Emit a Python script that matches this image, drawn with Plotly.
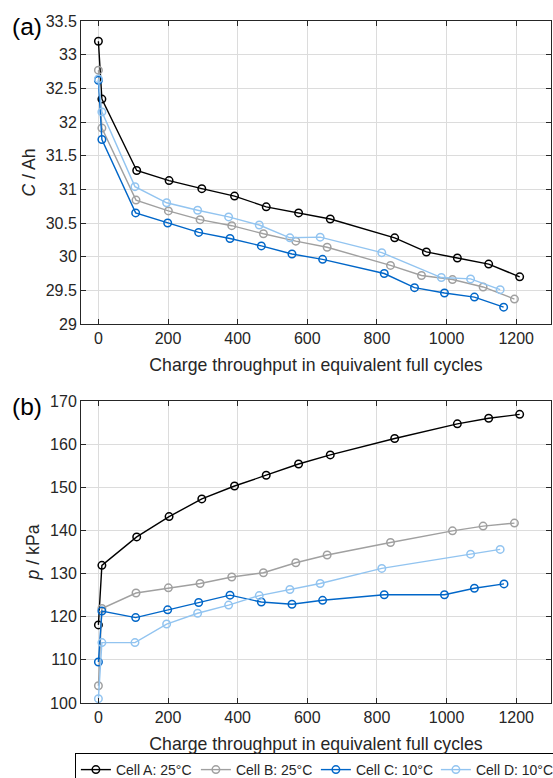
import plotly.graph_objects as go

# ---- data: capacity (panel a) ----
capA_x = [0, 10, 110, 203, 297, 391, 482, 575, 666, 851, 942, 1031, 1121, 1210]
capA_y = [33.20, 32.34, 31.28, 31.13, 31.01, 30.90, 30.74, 30.65, 30.56, 30.28, 30.07, 29.98, 29.89, 29.70]
capB_x = [0, 10, 108, 201, 292, 383, 474, 567, 657, 839, 928, 1017, 1105, 1195]
capB_y = [32.77, 31.91, 30.84, 30.68, 30.55, 30.46, 30.34, 30.23, 30.14, 29.87, 29.72, 29.66, 29.55, 29.37]
capC_x = [0, 10, 107, 199, 288, 378, 468, 556, 644, 821, 908, 994, 1080, 1164]
capC_y = [32.62, 31.74, 30.65, 30.50, 30.36, 30.27, 30.16, 30.04, 29.96, 29.75, 29.54, 29.46, 29.40, 29.25]
capD_x = [0, 10, 105, 196, 285, 374, 462, 550, 637, 814, 985, 1069, 1154]
capD_y = [32.64, 32.15, 31.04, 30.80, 30.69, 30.59, 30.47, 30.28, 30.29, 30.06, 29.69, 29.67, 29.51]

# ---- data: pressure (panel b) ----
prA_x = [0, 10, 110, 203, 297, 391, 482, 575, 666, 851, 1031, 1121, 1210]
prA_y = [118.1, 131.9, 138.5, 143.2, 147.3, 150.3, 152.8, 155.4, 157.5, 161.3, 164.7, 166.0, 166.9]
prB_x = [0, 10, 108, 201, 292, 383, 474, 567, 657, 839, 1017, 1105, 1195]
prB_y = [104.0, 121.9, 125.5, 126.7, 127.7, 129.2, 130.2, 132.5, 134.3, 137.2, 139.9, 141.0, 141.7]
prC_x = [0, 10, 107, 199, 288, 378, 468, 556, 644, 821, 994, 1080, 1165]
prC_y = [109.5, 121.3, 119.8, 121.6, 123.3, 125.0, 123.4, 122.9, 123.8, 125.1, 125.1, 126.6, 127.6]
prD_x = [0, 10, 105, 196, 285, 374, 462, 550, 637, 814, 1069, 1154]
prD_y = [101.0, 114.0, 114.0, 118.3, 120.8, 122.7, 124.9, 126.3, 127.7, 131.2, 134.5, 135.6]

names = ["Cell A: 25°C", "Cell B: 25°C", "Cell C: 10°C", "Cell D: 10°C"]
colors = ["#000000", "#A0A0A0", "#0066C8", "#92C4F0"]

x_ticks = [0, 200, 400, 600, 800, 1000, 1200]
cap_ticks = [29, 29.5, 30, 30.5, 31, 31.5, 32, 32.5, 33, 33.5]
cap_labels = ["29", "29.5", "30", "30.5", "31", "31.5", "32", "32.5", "33", "33.5"]
pr_ticks = [100, 110, 120, 130, 140, 150, 160, 170]

FONT = "Liberation Sans, Arial, sans-serif"
AXC = "#262626"

fig = go.Figure()
cap = [(capA_x, capA_y), (capB_x, capB_y), (capC_x, capC_y), (capD_x, capD_y)]
pr = [(prA_x, prA_y), (prB_x, prB_y), (prC_x, prC_y), (prD_x, prD_y)]
for i, (x, y) in enumerate(cap):
    fig.add_trace(go.Scatter(x=x, y=y, mode="lines+markers", name=names[i],
                             line=dict(color=colors[i], width=1.4),
                             marker=dict(symbol="circle-open", size=7.5, color=colors[i], line=dict(width=1.5)),
                             xaxis="x", yaxis="y", showlegend=False))
for i, (x, y) in enumerate(pr):
    fig.add_trace(go.Scatter(x=x, y=y, mode="lines+markers", name=names[i],
                             line=dict(color=colors[i], width=1.4),
                             marker=dict(symbol="circle-open", size=7.5, color=colors[i], line=dict(width=1.5)),
                             xaxis="x2", yaxis="y2", showlegend=True))

H = 778
t, b = 21, 75
ph = H - t - b
top_dom = [(703 - 324) / ph, 1.0]
bot_dom = [0.0, (703 - 401) / ph]

common_x = dict(range=[-50, 1300], tickvals=x_ticks, ticks="inside", ticklen=5, tickcolor=AXC,
                showline=True, linecolor=AXC, linewidth=1, mirror="allticks",
                showgrid=True, gridcolor="#DCDCDC", gridwidth=1, zeroline=False, automargin=False,
                tickfont=dict(size=16, color=AXC, family=FONT),
                title=dict(text="Charge throughput in equivalent full cycles",
                           font=dict(size=17.7, color=AXC, family=FONT), standoff=12))
common_y = dict(ticks="inside", ticklen=5, tickcolor=AXC,
                showline=True, linecolor=AXC, linewidth=1, mirror="allticks",
                showgrid=True, gridcolor="#DCDCDC", gridwidth=1, zeroline=False, automargin=False,
                tickfont=dict(size=16, color=AXC, family=FONT))

fig.update_layout(
    template="none",
    width=553, height=H,
    margin=dict(l=81, r=2, t=t, b=b, autoexpand=False),
    plot_bgcolor="white", paper_bgcolor="white",
    font=dict(family=FONT, color=AXC),
    xaxis=dict(domain=[0, 1], anchor="y", **common_x),
    yaxis=dict(domain=top_dom, anchor="x", range=[29, 33.5], tickvals=cap_ticks, ticktext=cap_labels,
               title=dict(text="<i>C</i> / Ah", font=dict(size=17.7, color=AXC, family=FONT), standoff=5),
               **common_y),
    xaxis2=dict(domain=[0, 1], anchor="y2", **common_x),
    yaxis2=dict(domain=bot_dom, anchor="x2", range=[100, 170], tickvals=pr_ticks,
                title=dict(text="<i>p</i> / kPa", font=dict(size=17.7, color=AXC, family=FONT), standoff=5),
                **common_y),
    legend=dict(orientation="h", x=-0.013, xanchor="left", y=(703 - 753) / ph, yanchor="top",
                bordercolor="#000000", borderwidth=1, bgcolor="white",
                font=dict(size=14, color=AXC, family=FONT),
                itemwidth=30, entrywidth=75, entrywidthmode="pixels", tracegroupgap=0),
    annotations=[
        dict(text="(a)", x=-0.151, y=1.0, xref="paper", yref="paper", xanchor="left", yanchor="top",
             yshift=10, showarrow=False, font=dict(size=24.5, color="#000000", family=FONT)),
        dict(text="(b)", x=-0.151, y=bot_dom[1], xref="paper", yref="paper", xanchor="left", yanchor="top",
             yshift=10, showarrow=False, font=dict(size=24.5, color="#000000", family=FONT)),
    ],
)

fig.write_html("out.html")
